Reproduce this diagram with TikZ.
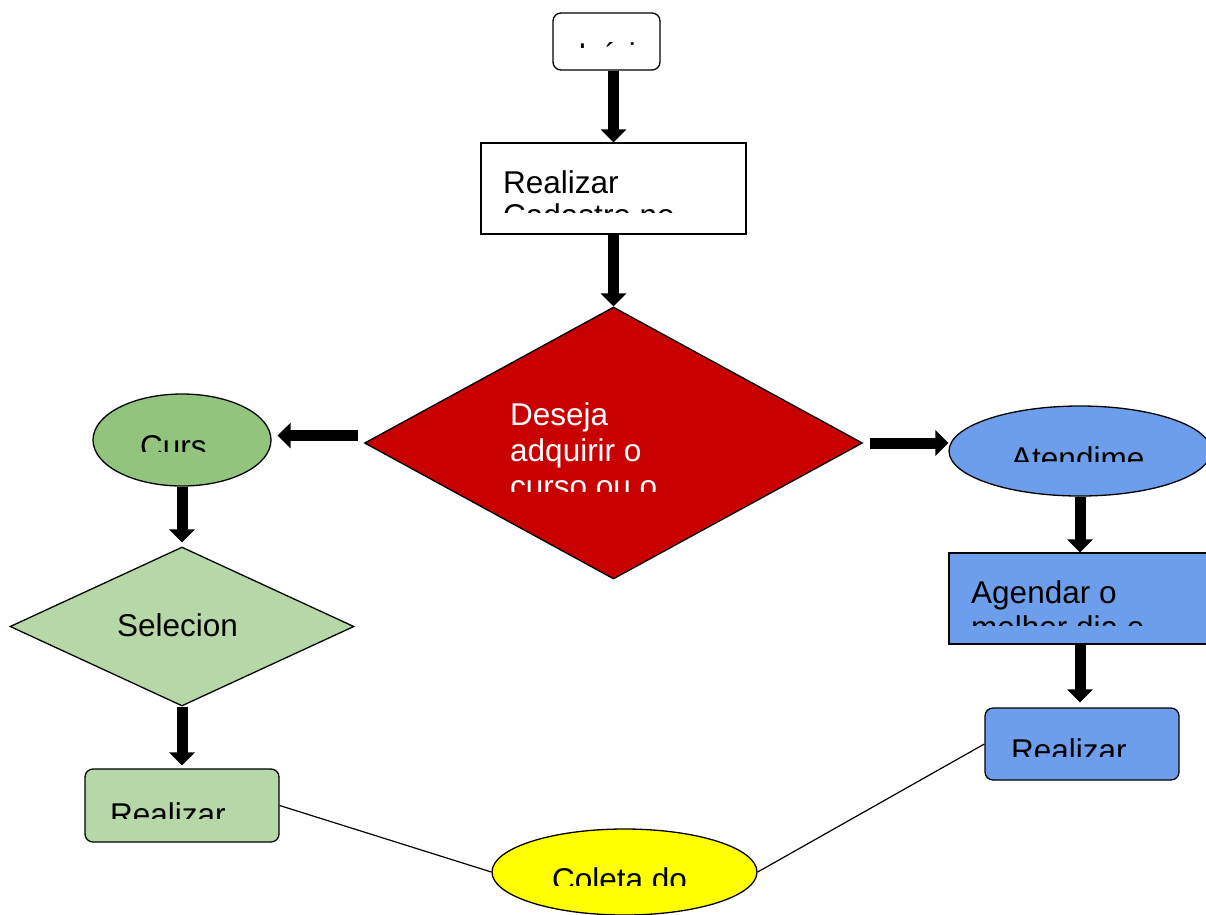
\documentclass[tikz,border=0pt]{standalone}
\usepackage{fontspec}
\setmainfont{Liberation Sans}
\usetikzlibrary{shapes.geometric,arrows.meta}
\definecolor{redA}{HTML}{C80000}
\definecolor{greenA}{HTML}{93C47D}
\definecolor{greenB}{HTML}{B6D7A8}
\definecolor{blueA}{HTML}{6D9EEB}
\definecolor{yellowA}{HTML}{FFFF00}
\begin{document}
\begin{tikzpicture}[x=1pt,y=-1pt,
  shp/.style={draw=black, line width=1.3pt, inner sep=0pt},
  rr/.style={shp, rectangle, rounded corners=8pt},
  rect/.style={shp, rectangle},
  ell/.style={shp, ellipse},
  dia/.style={shp, diamond},
  arr/.style={line width=11pt, -{Triangle[width=25pt,length=13pt]}},
  link/.style={line width=1.2pt},
  txt/.style={anchor=base west, inner sep=0pt, font=\fontsize{31.5}{36}\selectfont},
]
\useasboundingbox (0,0) rectangle (1206,914);
\clip (0,0) rectangle (1206,914);

% shapes
\node[rr, fill=white, minimum width=107pt, minimum height=57pt] (start) at (606.5,41.5) {};
\node[rect, fill=white, minimum width=265pt, minimum height=91pt] (cad) at (613.5,188.5) {};
\node[dia, fill=redA, minimum width=498pt, minimum height=272pt] (red) at (613.5,443) {};
\node[ell, fill=greenA, minimum width=178pt, minimum height=92pt] (curso) at (182,440) {};
\node[dia, fill=greenB, minimum width=344pt, minimum height=159pt] (selec) at (182,626.5) {};
\node[rr, fill=greenB, minimum width=194pt, minimum height=73pt] (realg) at (182,805.5) {};
\node[ell, fill=blueA, minimum width=262pt, minimum height=90pt] (aten) at (1080,451) {};
\node[rect, fill=blueA, minimum width=262pt, minimum height=91pt] (agend) at (1080,598.5) {};
\node[rr, fill=blueA, minimum width=194pt, minimum height=72pt] (realb) at (1082,744) {};
\node[ell, fill=yellowA, minimum width=265pt, minimum height=86pt] (coleta) at (624.5,872) {};

% connectors
\draw[arr] (start.south -| cad.north) -- (cad.north);
\draw[arr] (cad.south) -- (red.north);
\draw[arr, shorten <=6pt, shorten >=6pt] ([yshift=7.5pt]red.west) -- ([yshift=4.5pt]curso.east);
\draw[arr, shorten <=7pt] (red.east) -- ([yshift=8pt]aten.west);
\draw[arr, shorten >=4pt] (curso.south) -- (selec.north);
\draw[arr, shorten >=3pt] (selec.south) -- (realg.north);
\draw[arr] (aten.south) -- (agend.north);
\draw[arr, shorten >=5pt] (agend.south) -- (agend.south |- realb.north);
\draw[link] (realg.east) -- (coleta.west);
\draw[link] (realb.west) -- (coleta.east);

% texts (clipped as in the original)
\begin{scope}
\clip (560,42) rectangle (655,47.5);
\node[txt] (t0) at (578,65) {Início};
\end{scope}
\begin{scope}
\clip (482,144) rectangle (745,212.7);
\node[txt] (t1a) at (503,193) {Realizar};
\node[txt] (t1b) at (503,226) {Cadastro no};
\end{scope}
\begin{scope}
\clip (400,320) rectangle (820,491.5);
\node[txt, text=white] (t2a) at (510,425) {Deseja};
\node[txt, text=white] (t2b) at (510,461.5) {adquirir o};
\node[txt, text=white] (t2c) at (510,497.5) {curso ou o};
\end{scope}
\begin{scope}
\clip (100,400) rectangle (265,451.7);
\node[txt] (t3) at (140,457) {Curs};
\end{scope}
\begin{scope}
\clip (960,410) rectangle (1206,461.7);
\node[txt] (t4) at (1011,469) {Atendime};
\end{scope}
\begin{scope}
\clip (950,554) rectangle (1206,625.5);
\node[txt] (t5a) at (971,603) {Agendar o};
\node[txt] (t5b) at (971,638.5) {melhor dia e};
\end{scope}
\node[txt] (t6) at (117,636.5) {Selecion};
\begin{scope}
\clip (86,770) rectangle (278,818);
\node[txt] (t7) at (110,825) {Realizar};
\end{scope}
\begin{scope}
\clip (986,709) rectangle (1178,756.7);
\node[txt] (t8) at (1011,761) {Realizar};
\end{scope}
\begin{scope}
\clip (500,830) rectangle (750,885);
\node[txt] (t9) at (552,890) {Coleta do};
\end{scope}
\end{tikzpicture}
\end{document}
